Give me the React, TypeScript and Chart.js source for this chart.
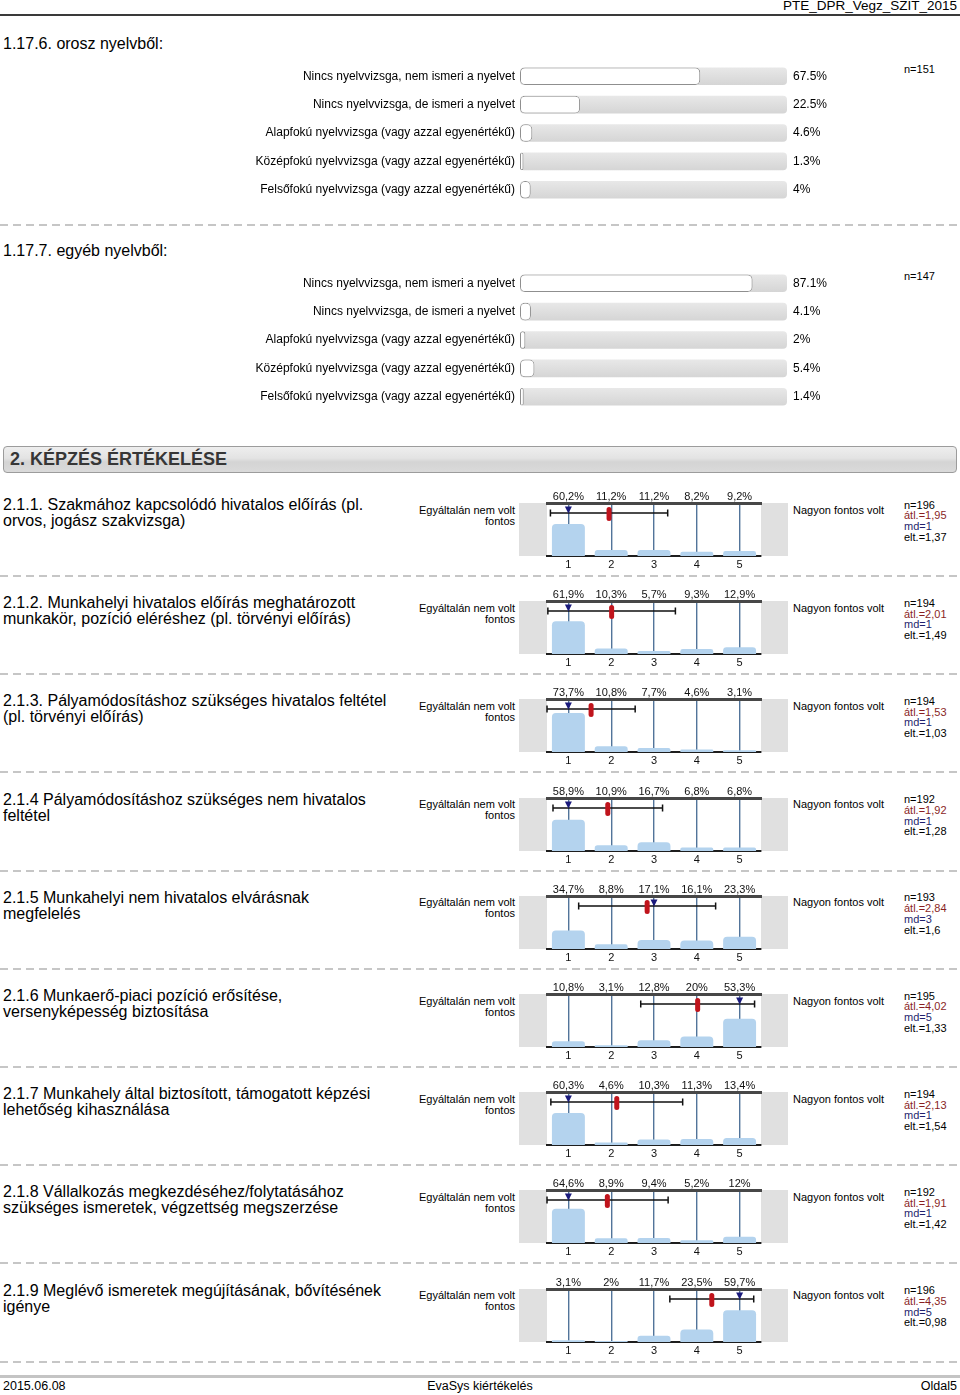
import React, { useEffect, useRef } from 'react';
import { Chart, registerables } from 'chart.js';

Chart.register(...registerables);

const FONT = '"Liberation Sans", Arial, Helvetica, sans-serif';
Chart.defaults.font.family = FONT;

// ---------- data ----------
const languageRowLabels = [
  'Nincs nyelvvizsga, nem ismeri a nyelvet',
  'Nincs nyelvvizsga, de ismeri a nyelvet',
  'Alapfokú nyelvvizsga (vagy azzal egyenértékű)',
  'Középfokú nyelvvizsga (vagy azzal egyenértékű)',
  'Felsőfokú nyelvvizsga (vagy azzal egyenértékű)',
];
const russianValues = [67.5, 22.5, 4.6, 1.3, 4];
const otherValues = [87.1, 4.1, 2, 5.4, 1.4];
const russianN = 151;
const otherN = 147;
const trackMax = 100;

const scaleTicks = ['1', '2', '3', '4', '5'];
const leftPole = ['Egyáltalán nem volt', 'fontos'];
const rightPole = 'Nagyon fontos volt';

const itemTitles = [
  ['2.1.1. Szakmához kapcsolódó hivatalos előírás (pl.', 'orvos, jogász szakvizsga)'],
  ['2.1.2. Munkahelyi hivatalos előírás meghatározott', 'munkakör, pozíció eléréshez (pl. törvényi előírás)'],
  ['2.1.3. Pályamódosításhoz szükséges hivatalos feltétel', '(pl. törvényi előírás)'],
  ['2.1.4 Pályamódosításhoz szükséges nem hivatalos', 'feltétel'],
  ['2.1.5 Munkahelyi nem hivatalos elvárásnak', 'megfelelés'],
  ['2.1.6 Munkaerő-piaci pozíció erősítése,', 'versenyképesség biztosítása'],
  ['2.1.7 Munkahely által biztosított, támogatott képzési', 'lehetőség kihasználása'],
  ['2.1.8 Vállalkozás megkezdéséhez/folytatásához', 'szükséges ismeretek, végzettség megszerzése'],
  ['2.1.9 Meglévő ismeretek megújításának, bővítésének', 'igénye'],
];
const itemDistributions = [
  [60.2, 11.2, 11.2, 8.2, 9.2],
  [61.9, 10.3, 5.7, 9.3, 12.9],
  [73.7, 10.8, 7.7, 4.6, 3.1],
  [58.9, 10.9, 16.7, 6.8, 6.8],
  [34.7, 8.8, 17.1, 16.1, 23.3],
  [10.8, 3.1, 12.8, 20, 53.3],
  [60.3, 4.6, 10.3, 11.3, 13.4],
  [64.6, 8.9, 9.4, 5.2, 12],
  [3.1, 2, 11.7, 23.5, 59.7],
];
const itemN = [196, 194, 194, 192, 193, 195, 194, 192, 196];
const itemMean = [1.95, 2.01, 1.53, 1.92, 2.84, 4.02, 2.13, 1.91, 4.35];
const itemMedian = [1, 1, 1, 1, 3, 5, 1, 1, 5];
const itemSd = [1.37, 1.49, 1.03, 1.28, 1.6, 1.33, 1.54, 1.42, 0.98];

// ---------- helpers ----------
const huNum = (v: number) => String(v).replace('.', ',');
const ITEM_TOP = 503;
const ITEM_STEP = 98.2;

function rr(ctx: CanvasRenderingContext2D, x: number, y: number, w: number, h: number, r: number) {
  const rad = Math.max(0, Math.min(r, w / 2, h / 2));
  ctx.beginPath();
  ctx.moveTo(x + rad, y);
  ctx.lineTo(x + w - rad, y);
  ctx.arcTo(x + w, y, x + w, y + rad, rad);
  ctx.lineTo(x + w, y + h - rad);
  ctx.arcTo(x + w, y + h, x + w - rad, y + h, rad);
  ctx.lineTo(x + rad, y + h);
  ctx.arcTo(x, y + h, x, y + h - rad, rad);
  ctx.lineTo(x, y + rad);
  ctx.arcTo(x, y, x + rad, y, rad);
  ctx.closePath();
}

// ---------- language bar chart ----------
function LanguageChart({ values, top }: { values: number[]; top: number }) {
  const ref = useRef<HTMLCanvasElement>(null);
  useEffect(() => {
    const trackPlugin = {
      id: 'track',
      beforeDatasetsDraw(chart: any) {
        const { ctx } = chart;
        const x = chart.scales.x;
        const meta = chart.getDatasetMeta(0);
        const x0 = x.getPixelForValue(0);
        const x1 = x.getPixelForValue(trackMax);
        ctx.save();
        meta.data.forEach((bar: any) => {
          const h = bar.height;
          const yTop = bar.y - h / 2;
          const g = ctx.createLinearGradient(0, yTop, 0, yTop + h);
          g.addColorStop(0, '#e8e8e8');
          g.addColorStop(1, '#d5d5d5');
          ctx.fillStyle = g;
          rr(ctx, x0, yTop, x1 - x0, h, 4);
          ctx.fill();
        });
        ctx.restore();
      },
    };
    const noPad = (s: any) => {
      s.paddingTop = 0;
      s.paddingBottom = 0;
    };
    const chart = new Chart(ref.current!, {
      type: 'bar',
      data: {
        labels: languageRowLabels,
        datasets: [
          {
            data: values,
            backgroundColor: '#ffffff',
            borderColor: '#8f8f8f',
            borderWidth: 1,
            borderRadius: 5,
            borderSkipped: false,
            barPercentage: 0.62,
            categoryPercentage: 1,
          },
        ],
      },
      options: {
        responsive: false,
        animation: false,
        devicePixelRatio: 1,
        indexAxis: 'y',
        layout: { padding: 0 },
        plugins: { legend: { display: false }, tooltip: { enabled: false } },
        scales: {
          x: { display: false, min: 0, max: trackMax },
          y: {
            position: 'left',
            grid: { display: false, drawTicks: false },
            border: { display: false },
            ticks: { font: { family: FONT, size: 12 }, color: '#000', padding: 5 },
            afterFit: (s: any) => {
              s.width = 290;
              noPad(s);
            },
          },
          yv: {
            type: 'category',
            position: 'right',
            labels: values.map((v) => v + '%'),
            offset: true,
            grid: { display: false, drawTicks: false },
            border: { display: false },
            ticks: { font: { family: FONT, size: 12 }, color: '#000', padding: 6 },
            afterFit: (s: any) => {
              s.width = 73;
              noPad(s);
            },
          },
        },
      } as any,
      plugins: [trackPlugin],
    });
    return () => chart.destroy();
  }, [values]);
  return (
    <canvas
      ref={ref}
      width={630}
      height={142}
      style={{ position: 'absolute', left: 230, top, width: 630, height: 142 }}
    />
  );
}

// ---------- rating chart ----------
function RatingChart({ idx, top }: { idx: number; top: number }) {
  const ref = useRef<HTMLCanvasElement>(null);
  useEffect(() => {
    const mean = itemMean[idx];
    const sd = itemSd[idx];
    const median = itemMedian[idx];
    const sidePlugin = {
      id: 'sides',
      beforeDraw(chart: any) {
        const { ctx, chartArea: a, width } = chart;
        ctx.save();
        ctx.fillStyle = '#e0e0e0';
        ctx.fillRect(0, a.top, a.left, a.bottom - a.top);
        ctx.fillRect(a.right, a.top, width - a.right - 1, a.bottom - a.top);
        ctx.restore();
      },
    };
    const markerPlugin = {
      id: 'markers',
      afterDraw(chart: any) {
        const { ctx, chartArea: a } = chart;
        const xs = chart.scales.x;
        // category scale accepts fractional indices: value v (1..5) -> index v-1
        const px = (v: number) => xs.getPixelForValue(v - 1);
        const yLine = a.top + 10;
        const lo = Math.max(0.5, mean - sd);
        const hi = Math.min(5.5, mean + sd);
        const xl = px(lo);
        const xh = px(hi);
        ctx.save();
        ctx.strokeStyle = '#111';
        ctx.lineWidth = 1.5;
        ctx.beginPath();
        ctx.moveTo(xl, yLine);
        ctx.lineTo(xh, yLine);
        ctx.moveTo(xl, yLine - 3.5);
        ctx.lineTo(xl, yLine + 3.5);
        ctx.moveTo(xh, yLine - 3.5);
        ctx.lineTo(xh, yLine + 3.5);
        ctx.stroke();
        // mean marker
        const xMean = px(mean);
        ctx.fillStyle = '#c0141c';
        rr(ctx, xMean - 2.5, a.top + 4, 5, 14, 2.5);
        ctx.fill();
        // median triangle
        const xMed = px(median);
        ctx.fillStyle = '#1a1a7c';
        ctx.beginPath();
        ctx.moveTo(xMed - 3.5, a.top + 3.5);
        ctx.lineTo(xMed + 3.5, a.top + 3.5);
        ctx.lineTo(xMed, a.top + 10.5);
        ctx.closePath();
        ctx.fill();
        ctx.restore();
      },
    };
    const chart = new Chart(ref.current!, {
      type: 'bar',
      data: {
        labels: scaleTicks,
        datasets: [
          {
            data: itemDistributions[idx],
            backgroundColor: '#b4d3ee',
            borderRadius: { topLeft: 4, topRight: 4, bottomLeft: 0, bottomRight: 0 },
            borderSkipped: 'bottom',
            barPercentage: 0.77,
            categoryPercentage: 1,
            xAxisID: 'x',
          },
        ],
      },
      options: {
        responsive: false,
        animation: false,
        devicePixelRatio: 1,
        layout: { padding: { left: 28, right: 28, top: 0, bottom: 0 } },
        plugins: { legend: { display: false }, tooltip: { enabled: false } },
        scales: {
          x: {
            position: 'bottom',
            offset: true,
            z: 1,
            grid: { offset: false, color: '#52749a', lineWidth: 1.4, drawTicks: false },
            border: { color: '#1e1e1e', width: 2 },
            ticks: { font: { family: FONT, size: 11 }, color: '#111', padding: 2 },
            afterFit: (s: any) => {
              s.height = 14;
            },
          },
          xp: {
            type: 'category',
            position: 'top',
            labels: itemDistributions[idx].map((v) => huNum(v) + '%'),
            offset: true,
            grid: { display: false, drawTicks: false },
            border: { color: '#474747', width: 3 },
            ticks: { font: { family: FONT, size: 11 }, color: '#111', padding: -1 },
            afterFit: (s: any) => {
              s.height = 17;
            },
          },
          y: { display: false, min: 0, max: 100 },
        },
      } as any,
      plugins: [sidePlugin, markerPlugin],
    });
    return () => chart.destroy();
  }, [idx]);
  return (
    <canvas
      ref={ref}
      width={270}
      height={84}
      style={{ position: 'absolute', left: 519, top, width: 270, height: 84 }}
    />
  );
}

// ---------- layout helpers ----------
type TxtProps = {
  x?: number;
  right?: number;
  cy: number;
  size: number;
  lh?: number;
  color?: string;
  bold?: boolean;
  family?: string;
  children: React.ReactNode;
};
function Txt({ x, right, cy, size, lh, color, bold, family, children }: TxtProps) {
  const L = lh ?? Math.round(size * 1.15);
  const style: React.CSSProperties = {
    position: 'absolute',
    top: cy - L / 2,
    fontSize: size,
    lineHeight: L + 'px',
    color: color ?? '#000',
    fontWeight: bold ? 'bold' : 'normal',
    fontFamily: family ?? FONT,
    whiteSpace: 'nowrap',
    textAlign: right !== undefined ? 'right' : 'left',
  };
  if (right !== undefined) style.right = 960 - right;
  else style.left = x;
  return <div style={style}>{children}</div>;
}

function Dashed({ y }: { y: number }) {
  return (
    <div
      style={{
        position: 'absolute',
        left: 0,
        top: y,
        width: 960,
        height: 2,
        background: 'repeating-linear-gradient(to right, #c6c6c6 0 8px, transparent 8px 13px)',
      }}
    />
  );
}

export default function App() {
  return (
    <div
      style={{
        position: 'absolute',
        left: 0,
        top: 0,
        width: 960,
        height: 1395,
        background: '#fff',
        overflow: 'hidden',
        fontFamily: FONT,
      }}
    >
      {/* page header */}
      <Txt right={957} cy={6} size={13.5} lh={16}>
        PTE_DPR_Vegz_SZIT_2015
      </Txt>
      <div style={{ position: 'absolute', left: 0, top: 14, width: 960, height: 2, background: '#3a3a3a' }} />

      {/* 1.17.6 */}
      <Txt x={3} cy={44} size={16} lh={18}>
        1.17.6. orosz nyelvből:
      </Txt>
      <LanguageChart values={russianValues} top={62} />
      <Txt x={904} cy={69} size={11}>
        n={russianN}
      </Txt>
      <Dashed y={224} />

      {/* 1.17.7 */}
      <Txt x={3} cy={251} size={16} lh={18}>
        1.17.7. egyéb nyelvből:
      </Txt>
      <LanguageChart values={otherValues} top={269} />
      <Txt x={904} cy={276} size={11}>
        n={otherN}
      </Txt>

      {/* section header */}
      <div
        style={{
          position: 'absolute',
          left: 3,
          top: 446,
          width: 952,
          height: 25,
          border: '1px solid #9c9c9c',
          borderRadius: 4,
          background: 'linear-gradient(#eeeeee, #e3e3e3 45%, #d4d4d4 60%, #dadada)',
        }}
      />
      <Txt x={10} cy={459} size={18} lh={22} bold color="#363636">
        2. KÉPZÉS ÉRTÉKELÉSE
      </Txt>

      {/* rating items */}
      {itemTitles.map((t, i) => {
        const base = ITEM_TOP + i * ITEM_STEP;
        return (
          <React.Fragment key={i}>
            <div
              style={{
                position: 'absolute',
                left: 3,
                top: base - 6,
                fontSize: 16,
                lineHeight: '16px',
                whiteSpace: 'nowrap',
                fontFamily: FONT,
              }}
            >
              {t[0]}
              <br />
              {t[1]}
            </div>
            <div
              style={{
                position: 'absolute',
                right: 960 - 515,
                top: base + 1.5,
                fontSize: 11,
                lineHeight: '11px',
                textAlign: 'right',
                whiteSpace: 'nowrap',
                fontFamily: FONT,
              }}
            >
              {leftPole[0]}
              <br />
              {leftPole[1]}
            </div>
            <RatingChart idx={i} top={base - 17} />
            <Txt x={793} cy={base + 7} size={11}>
              {rightPole}
            </Txt>
            <div
              style={{
                position: 'absolute',
                left: 904,
                top: base + 2 - 5.35,
                fontSize: 11,
                lineHeight: '10.7px',
                whiteSpace: 'nowrap',
                fontFamily: FONT,
              }}
            >
              <div style={{ color: '#000' }}>n={itemN[i]}</div>
              <div style={{ color: '#8a1f1f' }}>átl.={huNum(itemMean[i])}</div>
              <div style={{ color: '#1f1f6e' }}>md={itemMedian[i]}</div>
              <div style={{ color: '#000' }}>elt.={huNum(itemSd[i])}</div>
            </div>
            <Dashed y={base + 72} />
          </React.Fragment>
        );
      })}

      {/* footer */}
      <div style={{ position: 'absolute', left: 0, top: 1375, width: 960, height: 3, background: '#c4c4c4' }} />
      <Txt x={3} cy={1386} size={12.5} lh={15}>
        2015.06.08
      </Txt>
      <div
        style={{
          position: 'absolute',
          left: 0,
          width: 960,
          top: 1386 - 7.5,
          fontSize: 12.5,
          lineHeight: '15px',
          textAlign: 'center',
          fontFamily: FONT,
        }}
      >
        EvaSys kiértékelés
      </div>
      <Txt right={957} cy={1386} size={12.5} lh={15}>
        Oldal5
      </Txt>
    </div>
  );
}
